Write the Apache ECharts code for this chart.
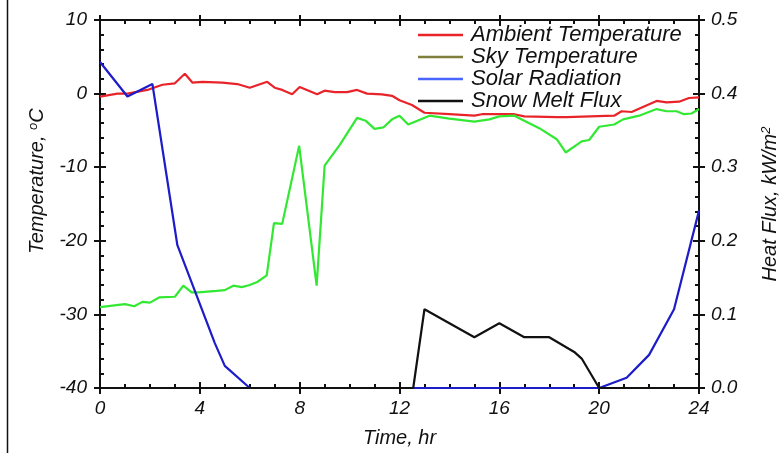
<!DOCTYPE html>
<html>
<head>
<meta charset="utf-8">
<script src="https://cdn.jsdelivr.net/npm/echarts@6/dist/echarts.min.js"></script>
<style>
html,body{margin:0;padding:0;background:#fff;}
#chart{width:783px;height:455px;}
</style>
</head>
<body>
<div id="chart"></div>
<script>
// Ambient temperature (°C)
var ambientTime = [0, 0.7, 1.1, 1.9, 2.5, 3.0, 3.4, 3.7, 4.1, 4.9, 5.5, 6.0, 6.7, 7.0, 7.3, 7.7, 8.0, 8.7, 9.0, 9.4, 9.9, 10.3, 10.7, 11.3, 11.7, 12.0, 12.5, 13.0, 14.0, 15.0, 15.3, 16.6, 17.0, 18.3, 18.7, 20.6, 20.9, 21.3, 22.3, 22.7, 23.2, 23.6, 24];
var ambientTemp = [-0.4, 0, 0, 0.5, 1.2, 1.4, 2.7, 1.5, 1.6, 1.5, 1.3, 0.8, 1.6, 0.8, 0.5, -0.1, 0.9, -0.1, 0.4, 0.2, 0.2, 0.5, 0, -0.1, -0.3, -0.9, -1.55, -2.6, -2.8, -3.0, -2.8, -2.8, -3.1, -3.2, -3.2, -3.0, -2.4, -2.5, -1.0, -1.2, -1.1, -0.6, -0.5];
// Sky temperature (°C)
var skyTime = [0, 1.0, 1.37, 1.7, 2.0, 2.37, 3.0, 3.34, 3.67, 3.94, 4.67, 5.0, 5.34, 5.68, 6.0, 6.3, 6.68, 6.97, 7.3, 7.98, 8.68, 9.0, 9.6, 10.3, 10.65, 11.0, 11.35, 11.7, 12.0, 12.35, 13.2, 14.0, 15.0, 15.6, 16.0, 16.6, 17.0, 17.6, 18.3, 18.66, 19.3, 19.6, 20.0, 20.6, 20.96, 21.6, 22.3, 22.7, 23.1, 23.4, 23.7, 24];
var skyTemp = [-29.0, -28.6, -28.9, -28.3, -28.4, -27.7, -27.6, -26.1, -27.0, -27.0, -26.8, -26.7, -26.1, -26.3, -26.0, -25.6, -24.7, -17.6, -17.7, -7.1, -26.1, -9.8, -7.0, -3.3, -3.7, -4.8, -4.6, -3.5, -3.0, -4.2, -3.0, -3.4, -3.8, -3.5, -3.1, -3.0, -3.7, -4.7, -6.2, -8.0, -6.5, -6.3, -4.5, -4.2, -3.5, -3.0, -2.1, -2.4, -2.4, -2.8, -2.7, -2.1];
// Solar radiation (kW/m2)
var solarTime = [0, 1.1, 2.1, 3.1, 4.6, 5.0, 6.0, 12.5, 20.0, 21.1, 22.0, 23.0, 24];
var solarFlux = [0.443, 0.396, 0.413, 0.194, 0.061, 0.03, 0, 0, 0, 0.014, 0.045, 0.107, 0.241];
// Snow melt flux (kW/m2)
var meltTime = [0, 12.55, 13.0, 15.0, 16.0, 17.0, 18.0, 19.0, 19.3, 20.0, 24];
var meltFlux = [0, 0, 0.107, 0.069, 0.088, 0.069, 0.069, 0.049, 0.040, 0, 0];

var seriesNames = ['Ambient Temperature', 'Sky Temperature', 'Solar Radiation', 'Snow Melt Flux'];
var xTicks = {min: 0, max: 24, interval: 4};
var tempTicks = {min: -40, max: 10, interval: 10};
var fluxTicks = {min: 0, max: 0.5, interval: 0.1};

function pairs(t, v) { return t.map(function (x, i) { return [x, v[i]]; }); }

var FONT = '"Liberation Sans", Arial, sans-serif';
var lbl = {color: '#111', fontFamily: FONT, fontStyle: 'italic', fontSize: 19};
var axLine = {show: true, onZero: false, lineStyle: {color: '#111', width: 2}};
var LW = 2.2;

function xAx(pos, opts) {
  return Object.assign({
    type: 'value', position: pos, min: xTicks.min, max: xTicks.max, interval: xTicks.interval,
    axisLine: axLine, splitLine: {show: false}, axisLabel: {show: false}
  }, opts);
}
function yAx(pos, tk, opts) {
  return Object.assign({
    type: 'value', position: pos, min: tk.min, max: tk.max, interval: tk.interval,
    axisLine: axLine, splitLine: {show: false}, axisLabel: {show: false}
  }, opts);
}
var supStyle = {fontFamily: FONT, fontStyle: 'italic', fontSize: 13, verticalAlign: 'top', color: '#111', padding: [0, 0, 8, 0]};

var chart = echarts.init(document.getElementById('chart'), null, {renderer: 'canvas'});
chart.setOption({
  backgroundColor: '#fff',
  animation: false,
  grid: {left: 100, right: 84, top: 20, bottom: 67, outerBoundsMode: 'none', containLabel: false},
  graphic: [{
    type: 'line', shape: {x1: 7.5, y1: 0, x2: 7.5, y2: 453},
    style: {stroke: '#111', lineWidth: 1.5}
  }],
  legend: {
    orient: 'vertical', left: 418, top: 24, padding: 0, itemGap: 0, itemWidth: 45, itemHeight: 2.5,
    icon: 'rect',
    textStyle: {color: '#111', fontFamily: FONT, fontStyle: 'italic', fontSize: 22, lineHeight: 22, padding: [0, 0, 0, 3]},
    data: [
      {name: seriesNames[0], itemStyle: {color: '#e8242a'}},
      {name: seriesNames[1], itemStyle: {color: '#80803c'}},
      {name: seriesNames[2], itemStyle: {color: '#4a66ff'}},
      {name: seriesNames[3], itemStyle: {color: '#111'}}
    ]
  },
  xAxis: [
    xAx('bottom', {
      axisTick: {show: true, inside: false, length: 6, lineStyle: {color: '#111', width: 2}},
      axisLabel: Object.assign({show: true, margin: 11}, lbl),
      name: 'Time, hr', nameLocation: 'middle', nameGap: 40,
      nameTextStyle: {color: '#111', fontFamily: FONT, fontStyle: 'italic', fontSize: 20}
    }),
    xAx('bottom', {
      axisTick: {show: true, inside: true, length: 6, lineStyle: {color: '#111', width: 2}},
      minorTick: {show: true, splitNumber: 4, length: 4, lineStyle: {color: '#111', width: 2}}
    }),
    xAx('top', {
      axisTick: {show: true, inside: true, length: 6, lineStyle: {color: '#111', width: 2}},
      minorTick: {show: true, splitNumber: 4, length: 4, lineStyle: {color: '#111', width: 2}}
    }),
    xAx('top', {
      axisTick: {show: true, inside: false, length: 5, lineStyle: {color: '#111', width: 2}}
    })
  ],
  yAxis: [
    yAx('left', tempTicks, {
      axisTick: {show: true, inside: false, length: 6, lineStyle: {color: '#111', width: 2}},
      axisLabel: Object.assign({show: true, margin: 13}, lbl),
      name: 'Temperature, {sup|o}C', nameLocation: 'middle', nameGap: 52, nameRotate: 90,
      nameTextStyle: {color: '#111', fontFamily: FONT, fontStyle: 'italic', fontSize: 20, padding: [0, 0, 0, 46],
        rich: {sup: supStyle}}
    }),
    yAx('right', fluxTicks, {
      axisTick: {show: true, inside: false, length: 6, lineStyle: {color: '#111', width: 2}},
      axisLabel: Object.assign({show: true, margin: 12, formatter: function (v) { return v.toFixed(1); }}, lbl),
      name: 'Heat Flux, kW/m{sup|2}', nameLocation: 'middle', nameGap: 61, nameRotate: 90,
      nameTextStyle: {color: '#111', fontFamily: FONT, fontStyle: 'italic', fontSize: 20,
        rich: {sup: supStyle}}
    }),
    yAx('left', tempTicks, {
      axisTick: {show: true, inside: true, length: 6, lineStyle: {color: '#111', width: 2}},
      minorTick: {show: true, splitNumber: 5, length: 4, lineStyle: {color: '#111', width: 2}}
    }),
    yAx('right', fluxTicks, {
      axisTick: {show: true, inside: true, length: 6, lineStyle: {color: '#111', width: 2}},
      minorTick: {show: true, splitNumber: 5, length: 4, lineStyle: {color: '#111', width: 2}}
    })
  ],
  series: [
    {name: seriesNames[0], type: 'line', xAxisIndex: 0, yAxisIndex: 0, data: pairs(ambientTime, ambientTemp),
      symbol: 'none', clip: false, lineStyle: {color: '#e8242a', width: LW}, itemStyle: {color: '#e8242a'}},
    {name: seriesNames[1], type: 'line', xAxisIndex: 0, yAxisIndex: 0, data: pairs(skyTime, skyTemp),
      symbol: 'none', clip: false, lineStyle: {color: '#33e833', width: LW}, itemStyle: {color: '#33e833'}},
    {name: seriesNames[2], type: 'line', xAxisIndex: 0, yAxisIndex: 1, data: pairs(solarTime, solarFlux),
      symbol: 'none', clip: false, lineStyle: {color: '#1c1cc8', width: LW}, itemStyle: {color: '#1c1cc8'}},
    {name: seriesNames[3], type: 'line', xAxisIndex: 0, yAxisIndex: 1, data: pairs(meltTime, meltFlux),
      symbol: 'none', clip: false, lineStyle: {color: '#111', width: LW}, itemStyle: {color: '#111'}}
  ]
});
</script>
</body>
</html>
